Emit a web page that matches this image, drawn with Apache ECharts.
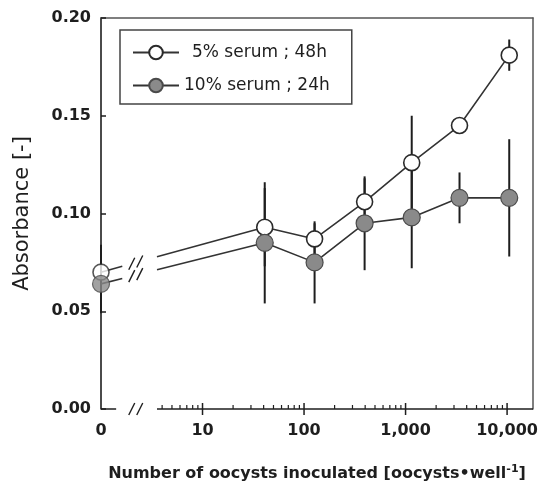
<!DOCTYPE html>
<html>
<head>
<meta charset="utf-8">
<script src="https://cdn.jsdelivr.net/npm/echarts@6/dist/echarts.min.js"></script>
<style>
html,body{margin:0;padding:0;background:#ffffff;}
#chart{width:538px;height:488px;}
</style>
</head>
<body>
<div id="chart"></div>
<script>
// ---- data ----
const doses = [0, 41, 127, 395, 1150, 3400, 10500];           // oocysts per well
const serum5Name = '5% serum ; 48h';
const serum5Mean = [0.070, 0.093, 0.087, 0.106, 0.126, 0.145, 0.181];
const serum5Err  = [0.014, 0.020, 0.008, 0.012, 0.024, 0.004, 0.008];
const serum10Name = '10% serum ; 24h';
const serum10Mean = [0.064, 0.085, 0.075, 0.095, 0.098, 0.108, 0.108];
const serum10Err  = [0.015, 0.031, 0.021, 0.024, 0.026, 0.013, 0.030];
const xMajorTicks = [10, 100, 1000, 10000];
const xTickLabels = ['0', '10', '100', '1,000', '10,000'];
const yTickLabels = ['0.00', '0.05', '0.10', '0.15', '0.20'];

// ---- layout constants (broken log axis: 0 is drawn where 1 would sit) ----
const ZERO_AT = 1;
const X_MAX = 18000;
const AXIS_BREAK_START = 1.41;
const LINE_BREAK_START = 1.62;
const BREAK_CENTER = 2.2;
const BREAK_RESUME = 3.56;
const FONT = 'DejaVu Sans, Liberation Sans, Arial, sans-serif';
const INK = '#1e1e1e';

const xPos = d => (d === 0 ? ZERO_AT : d);

function pointsFrom(mean, from) {
  const out = [];
  for (let i = from; i < doses.length; i++) out.push([xPos(doses[i]), mean[i]]);
  return out;
}
function errorData(mean, err) {
  return doses.map((d, i) => [xPos(d), mean[i], err[i]]);
}

function renderErrors(params, api) {
  const x = api.value(0), m = api.value(1), e = api.value(2);
  const a = api.coord([x, m - e]);
  const b = api.coord([x, m + e]);
  return {type: 'line', shape: {x1: a[0], y1: a[1], x2: b[0], y2: b[1]},
          style: {stroke: INK, lineWidth: 2}};
}

function renderBrokenSegment(params, api) {
  const p0 = api.coord([api.value(0), api.value(1)]);
  const p1 = api.coord([api.value(2), api.value(3)]);
  const yAt = px => p0[1] + (p1[1] - p0[1]) * (px - p0[0]) / (p1[0] - p0[0]);
  const bs = api.coord([LINE_BREAK_START, 0])[0];
  const be = api.coord([BREAK_RESUME, 0])[0];
  const bc = api.coord([BREAK_CENTER, 0])[0];
  const st = {stroke: '#333', lineWidth: 1.6};
  const children = [
    {type: 'line', shape: {x1: p0[0], y1: p0[1], x2: bs, y2: yAt(bs)}, style: st},
    {type: 'line', shape: {x1: be, y1: yAt(be), x2: p1[0], y2: p1[1]}, style: st}
  ];
  [-4, 4].forEach(dx => {
    const cx = bc + dx, cy = yAt(cx);
    children.push({type: 'line', shape: {x1: cx - 3, y1: cy + 6, x2: cx + 3, y2: cy - 6},
                   style: {stroke: INK, lineWidth: 1.4}});
  });
  return {type: 'group', children};
}

function renderAxisDecor(params, api) {
  const y0 = api.coord([ZERO_AT, 0])[1];
  const xAt = v => api.coord([v, 0])[0];
  const st = {stroke: INK, lineWidth: 1.5};
  const children = [];
  const seg = (x1, y1, x2, y2, s) => children.push({type: 'line', shape: {x1, y1, x2, y2}, style: s || st});
  seg(xAt(ZERO_AT), y0, xAt(AXIS_BREAK_START), y0);
  seg(xAt(BREAK_RESUME), y0, xAt(X_MAX), y0);
  const bc = xAt(BREAK_CENTER);
  [-4, 4].forEach(dx => seg(bc + dx - 3, y0 + 6, bc + dx + 3, y0 - 6, {stroke: INK, lineWidth: 1.4}));
  xMajorTicks.forEach(v => seg(xAt(v), y0 - 6, xAt(v), y0 + 6));
  const minorStyle = {stroke: INK, lineWidth: 1.2};
  [1, 10, 100, 1000, 10000].forEach(dec => {
    for (let k = 2; k <= 9; k++) {
      const v = k * dec;
      if (v <= BREAK_RESUME || v >= X_MAX) continue;
      seg(xAt(v), y0, xAt(v), y0 - 4, minorStyle);
    }
  });
  return {type: 'group', children};
}

function xLabel(v) {
  const l = Math.log10(v);
  const r = Math.round(l);
  if (Math.abs(l - r) > 1e-6 || r < 0 || r > 4) return '';
  return xTickLabels[r];
}

const openStyle = {color: '#ffffff', borderColor: '#2a2a2a', borderWidth: 1.6};
const filledStyle = {color: '#8a8a8a', borderColor: '#4a4a4a', borderWidth: 1.2};
const lineStyle = {color: '#333333', width: 1.6};

const option = {
  animation: false,
  backgroundColor: '#ffffff',
  grid: {left: 101, right: 5, top: 18, bottom: 79, containLabel: false, outerBoundsMode: 'none'},
  legend: {
    orient: 'vertical', left: 120, top: 30,
    padding: [14, 22, 10, 12],
    itemWidth: 46, itemHeight: 17, itemGap: 16,
    borderColor: '#444', borderWidth: 1.5,
    textStyle: {fontSize: 17, color: INK, fontFamily: FONT},
    data: [{name: serum5Name, textStyle: {padding: [0, 0, 0, 8]}}, {name: serum10Name}]
  },
  xAxis: [{
    type: 'log', logBase: 10, min: ZERO_AT, max: X_MAX,
    axisLine: {show: false}, axisTick: {show: false}, minorTick: {show: false},
    splitLine: {show: false}, minorSplitLine: {show: false},
    axisLabel: {formatter: xLabel, fontSize: 16, fontWeight: 'bold', color: INK, fontFamily: FONT, margin: 14},
    name: 'Number of oocysts inoculated [oocysts\u2022well{sup|-1}]',
    nameLocation: 'middle', nameGap: 55, nameMoveOverlap: false,
    nameTextStyle: {fontSize: 16, fontWeight: 'bold', color: INK, fontFamily: FONT,
      rich: {sup: {fontSize: 11, fontWeight: 'bold', color: INK, fontFamily: FONT, padding: [0, 0, 8, 0]}}}
  }, {
    type: 'value', position: 'top', min: 0, max: 1,
    axisLine: {show: true, onZero: false, lineStyle: {color: '#555', width: 1.5}},
    axisTick: {show: false}, axisLabel: {show: false}, splitLine: {show: false}
  }],
  yAxis: [{
    type: 'value', min: 0, max: 0.2, interval: 0.05,
    axisLine: {show: true, onZero: false, lineStyle: {color: INK, width: 1.6}},
    axisTick: {show: true, inside: true, length: 5, lineStyle: {color: INK, width: 1.5}},
    axisLabel: {formatter: (v) => yTickLabels[Math.round(v / 0.05)], fontSize: 16, fontWeight: 'bold',
                color: INK, fontFamily: FONT, margin: 10},
    splitLine: {show: false},
    name: 'Absorbance [-]', nameLocation: 'middle', nameGap: 68, nameMoveOverlap: false,
    nameTextStyle: {fontSize: 21, color: INK, fontFamily: FONT}
  }, {
    type: 'value', position: 'right', min: 0, max: 1,
    axisLine: {show: true, onZero: false, lineStyle: {color: '#555', width: 1.5}},
    axisTick: {show: false}, axisLabel: {show: false}, splitLine: {show: false}
  }],
  series: [
    {type: 'custom', name: 'axis', silent: true, z: 6, clip: false, renderItem: renderAxisDecor, data: [[ZERO_AT, 0]]},
    {type: 'custom', name: 'err5', silent: true, z: 1, renderItem: renderErrors, data: errorData(serum5Mean, serum5Err)},
    {type: 'custom', name: 'err10', silent: true, z: 1, renderItem: renderErrors, data: errorData(serum10Mean, serum10Err)},
    {type: 'custom', name: 'brk5', silent: true, z: 2, renderItem: renderBrokenSegment,
     data: [[xPos(doses[0]), serum5Mean[0], doses[1], serum5Mean[1]]]},
    {type: 'custom', name: 'brk10', silent: true, z: 2, renderItem: renderBrokenSegment,
     data: [[xPos(doses[0]), serum10Mean[0], doses[1], serum10Mean[1]]]},
    {type: 'line', name: serum5Name, z: 3, symbol: 'circle', symbolSize: 16,
     itemStyle: openStyle, lineStyle: lineStyle, data: pointsFrom(serum5Mean, 1)},
    {type: 'scatter', name: 'zero5', z: 3, symbol: 'circle', symbolSize: 16,
     itemStyle: openStyle, data: [[xPos(doses[0]), serum5Mean[0]]]},
    {type: 'line', name: serum10Name, z: 4, symbol: 'circle', symbolSize: 17,
     itemStyle: filledStyle, lineStyle: lineStyle, data: pointsFrom(serum10Mean, 1)},
    {type: 'scatter', name: 'zero10', z: 4, symbol: 'circle', symbolSize: 17,
     itemStyle: filledStyle, data: [[xPos(doses[0]), serum10Mean[0]]]}
  ]
};

const chart = echarts.init(document.getElementById('chart'), null, {renderer: 'canvas'});
chart.setOption(option);
</script>
</body>
</html>
